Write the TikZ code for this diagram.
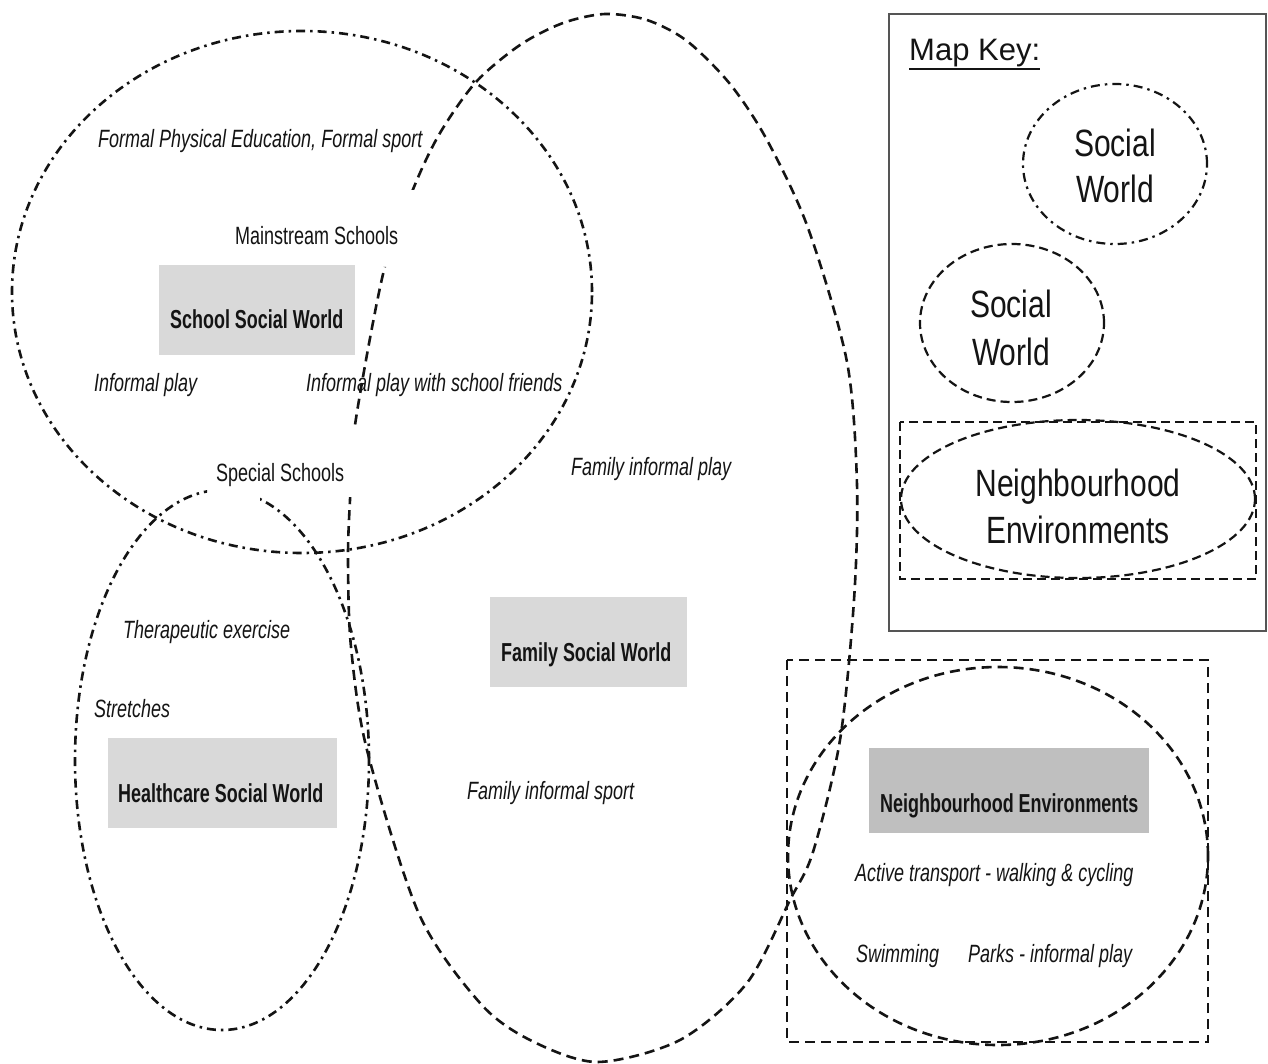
\documentclass[tikz,border=0pt]{standalone}
\usepackage{fontspec}
\setmainfont{Liberation Sans}
\newfontfamily\lblfont{Liberation Sans}[FakeStretch=0.72]
\newfontfamily\lblbold{Liberation Sans}[FakeStretch=0.69]
\newfontfamily\keyfont{Liberation Sans}[FakeStretch=0.79]
\definecolor{ink}{HTML}{141414}
\definecolor{boxgrey}{HTML}{D9D9D9}
\definecolor{boxdark}{HTML}{BFBFBF}
\definecolor{frame}{HTML}{555555}

\begin{document}
\begin{tikzpicture}[x=1pt,y=-1pt,
  txt/.style={inner sep=0pt, anchor=base west, text=ink, font=\lblfont\fontsize{25}{30}\selectfont},
  itxt/.style={txt, font=\lblfont\itshape\fontsize{25}{30}\selectfont},
  btxt/.style={txt, font=\lblbold\bfseries\fontsize{26}{30}\selectfont},
  keytxt/.style={inner sep=0pt, anchor=base, text=ink, font=\keyfont\fontsize{38}{46}\selectfont},
  greybox/.style={fill=boxgrey, draw=none, inner sep=0pt},
  world/.style={draw=ink, line width=2.6pt, dash pattern=on 9pt off 5pt on 2.5pt off 5pt},
  env/.style={draw=ink, line width=2.6pt, dash pattern=on 10pt off 6pt},
  keyworld/.style={draw=ink, line width=2.2pt, dash pattern=on 9pt off 5pt on 2.5pt off 5pt},
  keyenv/.style={draw=ink, line width=2.2pt, dash pattern=on 9pt off 5pt},
]
% canvas
\fill[white] (0,0) rectangle (1268,1064);
\useasboundingbox (0,0) rectangle (1268,1064);

% grey label boxes
\node[greybox, minimum width=196pt, minimum height=90pt] (schoolbox) at (257,310) {};
\node[greybox, minimum width=197pt, minimum height=90pt] (familybox) at (588.5,642) {};
\node[greybox, minimum width=229pt, minimum height=90pt] (healthbox) at (222.5,783) {};
\node[greybox, fill=boxdark, minimum width=280pt, minimum height=85pt] (neighbox) at (1009,790.5) {};

% school social world
\draw[world] (302,292) ellipse [x radius=290pt, y radius=261pt];

% healthcare social world, open under "Special Schools"
\begin{scope}[even odd rule]
  \clip (0,0) rectangle (1268,1064) (207,470) rectangle (260,515);
  \draw[world] (222,760) ellipse [x radius=147pt, y radius=270pt];
\end{scope}

% family social world, broken where labels sit
\begin{scope}[even odd rule]
  \clip (0,0) rectangle (1268,1064)
        (362,190) rectangle (432,267)
        (335,428) rectangle (372,497);
  \draw[env] plot[smooth cycle, tension=0.5] coordinates {
    (605,14) (647,20) (687,41) (730,84) (767,140) (808,228) (847,362) (857,485)
    (854,600) (840,740) (813,852) (790,900) (747,983) (680,1040) (597,1062)
    (530,1040) (480,1003) (419,914) (367,750) (351,647) (348,560)
    (350,500) (355,425) (384,270) (414,187) (440,133) (476,82) (520,45) (563,23)};
\end{scope}

% neighbourhood environments
\draw[env] (787,660) rectangle (1208,1042);
\draw[env] (998,856) ellipse [x radius=210pt, y radius=189pt];

% labels
\node[itxt] (fpe) at (98,148) {Formal Physical Education, Formal sport};
\node[txt] (mainstream) at (235,245) {Mainstream Schools};
\node[btxt] (schoolt) at (170,328) {School Social World};
\node[itxt] (iplay) at (94,391) {Informal play};
\node[itxt] (ipfriends) at (306,391) {Informal play with school friends};
\node[txt] (special) at (216,481) {Special Schools};
\node[itxt] (fiplay) at (571,475) {Family informal play};
\node[btxt] (familyt) at (501,661) {Family Social World};
\node[itxt] (therapy) at (123,638) {Therapeutic exercise};
\node[itxt] (stretch) at (94,717) {Stretches};
\node[btxt] (healtht) at (118,802) {Healthcare Social World};
\node[itxt] (fisport) at (467,799) {Family informal sport};
\node[btxt] (neight) at (880,812) {Neighbourhood Environments};
\node[itxt] (active) at (855,881) {Active transport - walking \& cycling};
\node[itxt] (swim) at (856,962) {Swimming};
\node[itxt] (parks) at (968,962) {Parks - informal play};

% map key
\draw[frame, line width=1.5pt] (889,14) rectangle (1266,631);
\node[inner sep=0pt, anchor=base west, text=ink, font=\fontsize{31}{36}\selectfont] (mk) at (909,61) {Map Key:};
\draw[ink, line width=1.6pt] ([yshift=-8pt]mk.base west) -- ([yshift=-8pt]mk.base east);

\draw[keyworld] (1115,164) ellipse [x radius=92pt, y radius=80pt];
\node[keytxt] (k1a) at (1115,157) {Social};
\node[keytxt] (k1b) at (1115,203) {World};

\draw[keyenv] (1012,323) ellipse [x radius=92pt, y radius=79pt];
\node[keytxt] (k2a) at (1011,318) {Social};
\node[keytxt] (k2b) at (1011,365) {World};

\draw[keyenv] (900,422) rectangle (1256,579);
\draw[keyenv] (1078,499) ellipse [x radius=177pt, y radius=79pt];
\node[keytxt] (k3a) at (1078,496) {Neighbourhood};
\node[keytxt] (k3b) at (1078,543) {Environments};
\end{tikzpicture}
\end{document}
